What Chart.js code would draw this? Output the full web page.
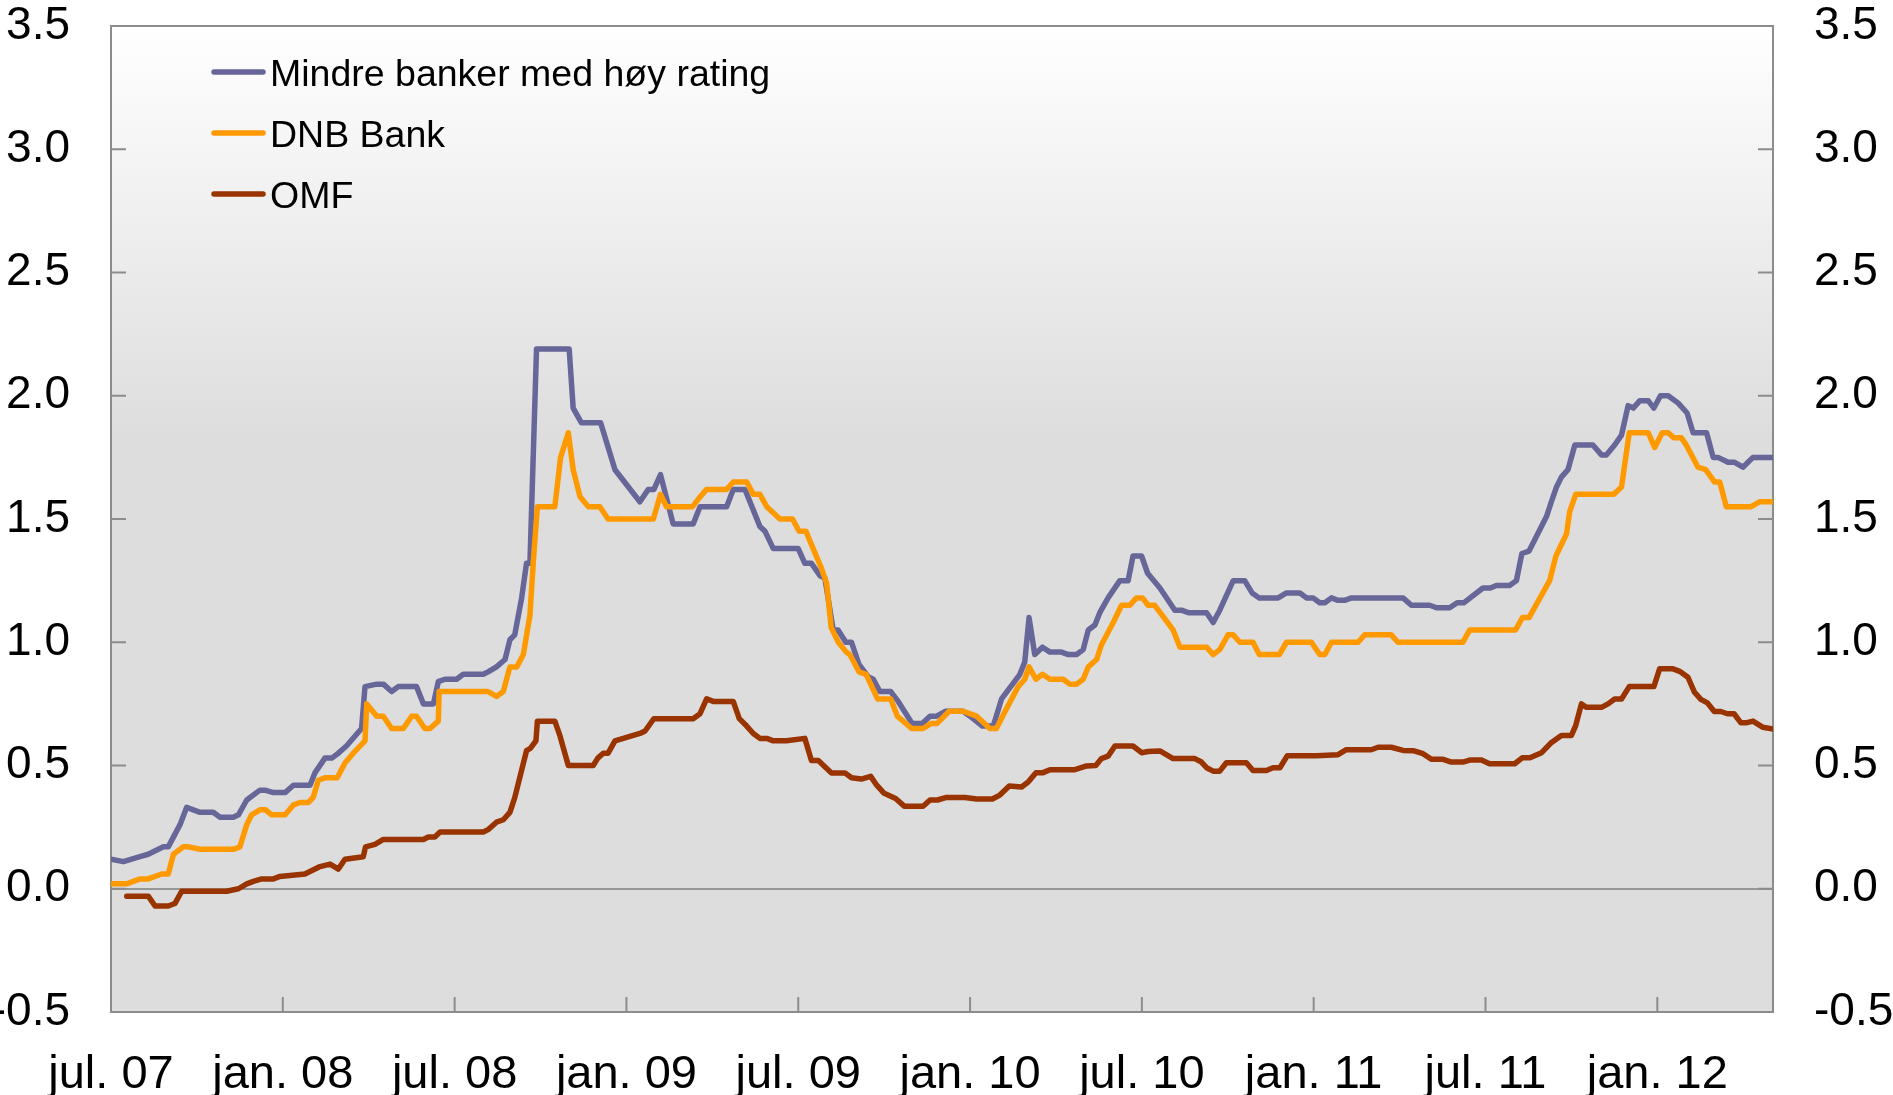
<!DOCTYPE html>
<html>
<head>
<meta charset="utf-8">
<script src="https://cdn.jsdelivr.net/npm/chart.js@4.4.1/dist/chart.umd.min.js"></script>
<style>
  html, body { margin: 0; padding: 0; background: #fff; }
  #wrap { width: 1893px; height: 1095px; }
</style>
</head>
<body>
<div id="wrap"><canvas id="spreadChart" width="1893" height="1095"></canvas></div>
<script>
// x = måneder etter 1. juli 2007
const tickMonths = [0, 6, 12, 18, 24, 30, 36, 42, 48, 54];
const tickLabels = ['jul. 07', 'jan. 08', 'jul. 08', 'jan. 09', 'jul. 09', 'jan. 10', 'jul. 10', 'jan. 11', 'jul. 11', 'jan. 12'];
const lastMonth = 58.04;

const seriesNames = ['Mindre banker med høy rating', 'DNB Bank', 'OMF'];
const seriesColors = ['#666699', '#ff9900', '#993300'];

const mindreBanker = [
  [0.00,0.12],[0.43,0.11],[1.01,0.13],[1.30,0.14],[1.83,0.17],[2.00,0.17],[2.41,0.26],[2.64,0.33],[3.11,0.31],[3.57,0.31],
  [3.81,0.29],[4.27,0.29],[4.45,0.30],[4.74,0.36],[5.20,0.40],[5.38,0.40],[5.67,0.39],[6.08,0.39],[6.37,0.42],[6.95,0.42],
  [7.12,0.47],[7.47,0.53],[7.71,0.53],[7.94,0.55],[8.23,0.58],[8.75,0.65],[8.87,0.82],[9.28,0.83],[9.51,0.83],[9.80,0.80],
  [10.03,0.82],[10.67,0.82],[10.91,0.75],[11.26,0.75],[11.43,0.84],[11.66,0.85],[12.07,0.85],[12.30,0.87],[13.00,0.87],[13.17,0.88],
  [13.46,0.90],[13.76,0.93],[13.93,1.01],[14.10,1.03],[14.34,1.18],[14.51,1.32],[14.63,1.32],[14.86,2.19],[16.00,2.19],[16.14,1.95],
  [16.43,1.89],[17.10,1.89],[17.60,1.70],[18.47,1.57],[18.76,1.62],[18.96,1.62],[19.19,1.68],[19.63,1.48],[20.33,1.48],[20.57,1.55],
  [21.50,1.55],[21.73,1.62],[22.14,1.62],[22.66,1.47],[22.84,1.45],[23.13,1.38],[24.00,1.38],[24.23,1.32],[24.46,1.32],[24.76,1.27],
  [24.93,1.26],[25.22,1.05],[25.39,1.05],[25.66,1.00],[25.86,1.00],[26.12,0.91],[26.44,0.86],[26.62,0.85],[26.85,0.80],[27.23,0.80],
  [27.49,0.76],[27.98,0.67],[28.33,0.67],[28.60,0.70],[28.83,0.70],[29.15,0.72],[29.76,0.72],[30.00,0.70],[30.43,0.66],[30.81,0.66],
  [31.10,0.77],[31.74,0.87],[31.91,0.92],[32.06,1.10],[32.26,0.95],[32.53,0.98],[32.79,0.96],[33.19,0.96],[33.43,0.95],[33.72,0.95],
  [33.95,0.97],[34.13,1.05],[34.36,1.07],[34.53,1.12],[34.82,1.18],[35.23,1.25],[35.52,1.25],[35.69,1.35],[35.99,1.35],[36.20,1.28],
  [36.63,1.22],[37.15,1.13],[37.38,1.13],[37.62,1.12],[38.26,1.12],[38.49,1.08],[38.72,1.13],[39.19,1.25],[39.59,1.25],[39.85,1.20],
  [40.09,1.18],[40.76,1.18],[41.05,1.20],[41.52,1.20],[41.75,1.18],[41.98,1.18],[42.21,1.16],[42.39,1.16],[42.62,1.18],[42.85,1.17],
  [43.08,1.17],[43.32,1.18],[45.12,1.18],[45.41,1.15],[46.05,1.15],[46.29,1.14],[46.75,1.14],[47.01,1.16],[47.24,1.16],[47.91,1.22],
  [48.17,1.22],[48.38,1.23],[48.84,1.23],[49.08,1.25],[49.27,1.36],[49.52,1.37],[50.13,1.51],[50.30,1.57],[50.48,1.63],[50.65,1.67],
  [50.88,1.70],[51.12,1.80],[51.75,1.80],[52.05,1.76],[52.22,1.76],[52.51,1.80],[52.75,1.84],[52.98,1.96],[53.16,1.95],[53.39,1.98],
  [53.68,1.98],[53.88,1.95],[54.11,2.00],[54.38,2.00],[54.73,1.97],[55.04,1.93],[55.25,1.85],[55.72,1.85],[55.95,1.75],[56.12,1.75],
  [56.47,1.73],[56.70,1.73],[56.99,1.71],[57.34,1.75],[58.04,1.75]
];

const dnbBank = [
  [0.00,0.02],[0.55,0.02],[1.01,0.04],[1.30,0.04],[1.77,0.06],[2.00,0.06],[2.18,0.14],[2.52,0.17],[2.70,0.17],[3.11,0.16],
  [4.27,0.16],[4.50,0.17],[4.74,0.26],[4.91,0.30],[5.20,0.32],[5.40,0.32],[5.61,0.30],[6.08,0.30],[6.37,0.34],[6.60,0.35],
  [6.89,0.35],[7.06,0.37],[7.24,0.44],[7.47,0.45],[7.90,0.45],[8.17,0.51],[8.46,0.55],[8.87,0.60],[8.93,0.75],[9.28,0.70],
  [9.51,0.70],[9.80,0.65],[10.21,0.65],[10.50,0.70],[10.67,0.70],[10.96,0.65],[11.14,0.65],[11.43,0.68],[11.46,0.80],[13.17,0.80],
  [13.46,0.78],[13.70,0.80],[13.93,0.90],[14.17,0.90],[14.40,0.95],[14.63,1.11],[14.75,1.33],[14.89,1.55],[15.50,1.55],[15.70,1.75],
  [15.97,1.85],[16.14,1.70],[16.38,1.59],[16.67,1.55],[17.07,1.55],[17.36,1.50],[18.94,1.50],[19.19,1.60],[19.40,1.55],[20.31,1.55],
  [20.57,1.59],[20.80,1.62],[21.50,1.62],[21.73,1.65],[22.20,1.65],[22.43,1.60],[22.66,1.60],[22.90,1.55],[23.36,1.50],[23.80,1.50],
  [24.03,1.45],[24.27,1.45],[24.52,1.38],[24.81,1.30],[24.99,1.24],[25.15,1.06],[25.40,1.00],[25.68,0.96],[25.80,0.95],[26.12,0.88],
  [26.37,0.87],[26.77,0.77],[27.23,0.77],[27.46,0.70],[27.96,0.65],[28.36,0.65],[28.63,0.67],[28.84,0.67],[29.27,0.72],[29.76,0.72],
  [30.23,0.70],[30.69,0.65],[30.92,0.65],[31.27,0.73],[31.68,0.82],[31.91,0.85],[32.06,0.90],[32.30,0.85],[32.53,0.87],[32.79,0.85],
  [33.25,0.85],[33.48,0.83],[33.72,0.83],[33.95,0.85],[34.13,0.90],[34.42,0.93],[34.59,0.99],[35.00,1.08],[35.29,1.15],[35.58,1.15],
  [35.81,1.18],[36.02,1.18],[36.22,1.15],[36.45,1.15],[37.09,1.05],[37.33,0.98],[38.26,0.98],[38.49,0.95],[38.72,0.97],[39.01,1.03],
  [39.19,1.03],[39.42,1.00],[39.88,1.00],[40.10,0.95],[40.80,0.95],[41.05,1.00],[41.92,1.00],[42.21,0.95],[42.39,0.95],[42.62,1.00],
  [43.55,1.00],[43.78,1.03],[44.71,1.03],[44.94,1.00],[47.21,1.00],[47.45,1.05],[49.05,1.05],[49.29,1.10],[49.52,1.10],[50.24,1.25],
  [50.46,1.35],[50.83,1.44],[50.94,1.53],[51.15,1.60],[52.48,1.60],[52.75,1.63],[53.02,1.85],[53.68,1.85],[53.91,1.79],[54.17,1.85],
  [54.38,1.85],[54.57,1.83],[54.84,1.83],[55.01,1.80],[55.42,1.71],[55.69,1.70],[56.00,1.65],[56.18,1.65],[56.41,1.55],[57.28,1.55],
  [57.57,1.57],[58.04,1.57]
];

const omf = [
  [0.55,-0.03],[1.30,-0.03],[1.54,-0.07],[2.00,-0.07],[2.23,-0.06],[2.47,-0.01],[4.04,-0.01],[4.45,0.00],[4.74,0.02],[4.97,0.03],
  [5.26,0.04],[5.67,0.04],[5.90,0.05],[6.77,0.06],[7.30,0.09],[7.65,0.10],[7.94,0.08],[8.17,0.12],[8.81,0.13],[8.89,0.17],
  [9.22,0.18],[9.51,0.20],[10.91,0.20],[11.08,0.21],[11.31,0.21],[11.49,0.23],[13.00,0.23],[13.17,0.24],[13.46,0.27],[13.70,0.28],
  [13.93,0.31],[14.10,0.37],[14.51,0.56],[14.65,0.57],[14.84,0.60],[14.89,0.68],[15.50,0.68],[15.68,0.62],[15.97,0.50],[16.84,0.50],
  [17.00,0.53],[17.19,0.55],[17.36,0.55],[17.60,0.60],[18.47,0.63],[18.65,0.64],[18.96,0.69],[20.33,0.69],[20.57,0.71],[20.80,0.77],
  [21.03,0.76],[21.73,0.76],[21.94,0.69],[22.20,0.66],[22.43,0.63],[22.66,0.61],[22.90,0.61],[23.13,0.60],[23.59,0.60],[24.23,0.61],
  [24.46,0.52],[24.70,0.52],[25.16,0.47],[25.63,0.47],[25.86,0.45],[26.20,0.445],[26.53,0.456],[26.74,0.42],[27.00,0.387],[27.40,0.366],
  [27.70,0.335],[28.36,0.335],[28.60,0.36],[28.86,0.36],[29.15,0.37],[29.82,0.37],[30.23,0.364],[30.78,0.364],[31.04,0.38],[31.37,0.417],
  [31.80,0.413],[32.03,0.433],[32.30,0.471],[32.55,0.471],[32.79,0.483],[33.66,0.483],[34.07,0.498],[34.39,0.50],[34.59,0.528],[34.82,0.538],
  [35.06,0.579],[35.69,0.579],[35.99,0.552],[36.22,0.557],[36.63,0.559],[37.09,0.528],[37.85,0.528],[38.08,0.514],[38.26,0.491],[38.49,0.477],
  [38.72,0.477],[38.95,0.511],[39.65,0.511],[39.88,0.48],[40.35,0.48],[40.58,0.491],[40.82,0.491],[41.08,0.54],[42.10,0.54],[42.85,0.544],
  [43.14,0.564],[44.01,0.564],[44.25,0.574],[44.71,0.574],[45.12,0.561],[45.47,0.56],[45.82,0.548],[46.11,0.525],[46.52,0.525],[46.81,0.514],
  [47.21,0.514],[47.45,0.522],[47.86,0.522],[48.14,0.507],[49.02,0.507],[49.28,0.531],[49.55,0.531],[49.96,0.552],[50.27,0.59],[50.65,0.622],
  [51.00,0.622],[51.15,0.662],[51.35,0.75],[51.52,0.736],[52.05,0.736],[52.28,0.75],[52.51,0.77],[52.75,0.77],[53.02,0.82],[53.88,0.82],
  [54.08,0.892],[54.55,0.892],[54.78,0.882],[55.07,0.858],[55.30,0.797],[55.52,0.768],[55.75,0.754],[55.99,0.719],[56.22,0.719],[56.45,0.71],
  [56.68,0.71],[56.92,0.673],[57.10,0.673],[57.34,0.68],[57.69,0.655],[58.04,0.648]
];

const fontFamily = '"Liberation Sans", Arial, sans-serif';
const frameColor = '#8c8c8c';

const toPoints = arr => arr.map(p => ({ x: p[0], y: p[1] }));

// bakgrunn, ramme, innvendige tick-streker og legende
const rammePlugin = {
  id: 'ramme',
  beforeDraw(chart) {
    const { ctx, chartArea: a } = chart;
    const g = ctx.createLinearGradient(0, a.top, 0, a.bottom);
    g.addColorStop(0, '#ffffff');
    g.addColorStop(0.42, '#dddddd');
    g.addColorStop(1, '#dddddd');
    ctx.save();
    ctx.fillStyle = g;
    ctx.fillRect(a.left, a.top, a.width, a.height);
    ctx.restore();
  },
  beforeDatasetsDraw(chart) {
    const { ctx, chartArea: a, scales } = chart;
    ctx.save();
    ctx.strokeStyle = frameColor;
    ctx.lineWidth = 2;
    ctx.beginPath();
    scales.y.ticks.forEach(t => {
      const y = scales.y.getPixelForValue(t.value);
      ctx.moveTo(a.left, y); ctx.lineTo(a.left + 15, y);
      ctx.moveTo(a.right, y); ctx.lineTo(a.right - 15, y);
    });
    scales.x.ticks.forEach(t => {
      const x = scales.x.getPixelForValue(t.value);
      ctx.moveTo(x, a.bottom); ctx.lineTo(x, a.bottom - 15);
    });
    ctx.stroke();
    ctx.strokeRect(a.left, a.top, a.width, a.height);
    ctx.restore();
  },
  afterDraw(chart) {
    const { ctx, chartArea: a } = chart;
    ctx.save();
    ctx.font = '37.5px ' + fontFamily;
    ctx.textBaseline = 'alphabetic';
    ctx.fillStyle = '#000';
    chart.data.datasets.forEach((ds, i) => {
      const y = a.top + 46 + i * 61;
      ctx.strokeStyle = ds.borderColor;
      ctx.lineWidth = 5.5;
      ctx.lineCap = 'round';
      ctx.beginPath();
      ctx.moveTo(a.left + 103, y);
      ctx.lineTo(a.left + 152, y);
      ctx.stroke();
      ctx.fillText(ds.label, a.left + 159, y + 13.5);
    });
    ctx.restore();
  }
};

// fast bredde på y-aksene, og ingen ekstra luft over/under
const fixAxis = w => scale => {
  scale.width = w;
  scale.paddingTop = 0;
  scale.paddingBottom = 0;
};

const yTickOptions = {
  stepSize: 0.5,
  padding: 41,
  color: '#000',
  font: { family: fontFamily, size: 46, lineHeight: 1 },
  callback: v => v.toFixed(1)
};

new Chart(document.getElementById('spreadChart'), {
  type: 'line',
  data: {
    datasets: [mindreBanker, dnbBank, omf].map((s, i) => ({
      label: seriesNames[i],
      data: toPoints(s),
      borderColor: seriesColors[i],
      backgroundColor: seriesColors[i],
      borderWidth: 5.5,
      borderJoinStyle: 'round',
      borderCapStyle: 'round',
      pointRadius: 0,
      tension: 0,
      order: 3 - i,
      yAxisID: 'y'
    }))
  },
  options: {
    responsive: false,
    animation: false,
    devicePixelRatio: 1,
    layout: { padding: { top: 26, left: 0, right: 0, bottom: 0 } },
    plugins: {
      legend: { display: false },
      tooltip: { enabled: false }
    },
    scales: {
      x: {
        type: 'linear',
        min: 0,
        max: lastMonth,
        afterBuildTicks: scale => { scale.ticks = tickMonths.map(v => ({ value: v })); },
        afterFit: scale => { scale.height = 83; },
        grid: { display: false },
        border: { display: false },
        ticks: {
          padding: 27,
          maxRotation: 0,
          autoSkip: false,
          color: '#000',
          font: { family: fontFamily, size: 47 },
          callback: v => tickLabels[tickMonths.indexOf(v)]
        }
      },
      y: {
        position: 'left',
        min: -0.5,
        max: 3.5,
        afterFit: fixAxis(111),
        border: { display: false },
        grid: {
          drawTicks: false,
          lineWidth: 2,
          color: ctx => (ctx.tick && Math.abs(ctx.tick.value) < 1e-9) ? '#969696' : 'rgba(0,0,0,0)'
        },
        ticks: yTickOptions
      },
      y2: {
        position: 'right',
        display: true,
        min: -0.5,
        max: 3.5,
        afterFit: fixAxis(120),
        border: { display: false },
        grid: { display: false, drawTicks: false },
        ticks: yTickOptions
      }
    }
  },
  plugins: [rammePlugin]
});
</script>
</body>
</html>
